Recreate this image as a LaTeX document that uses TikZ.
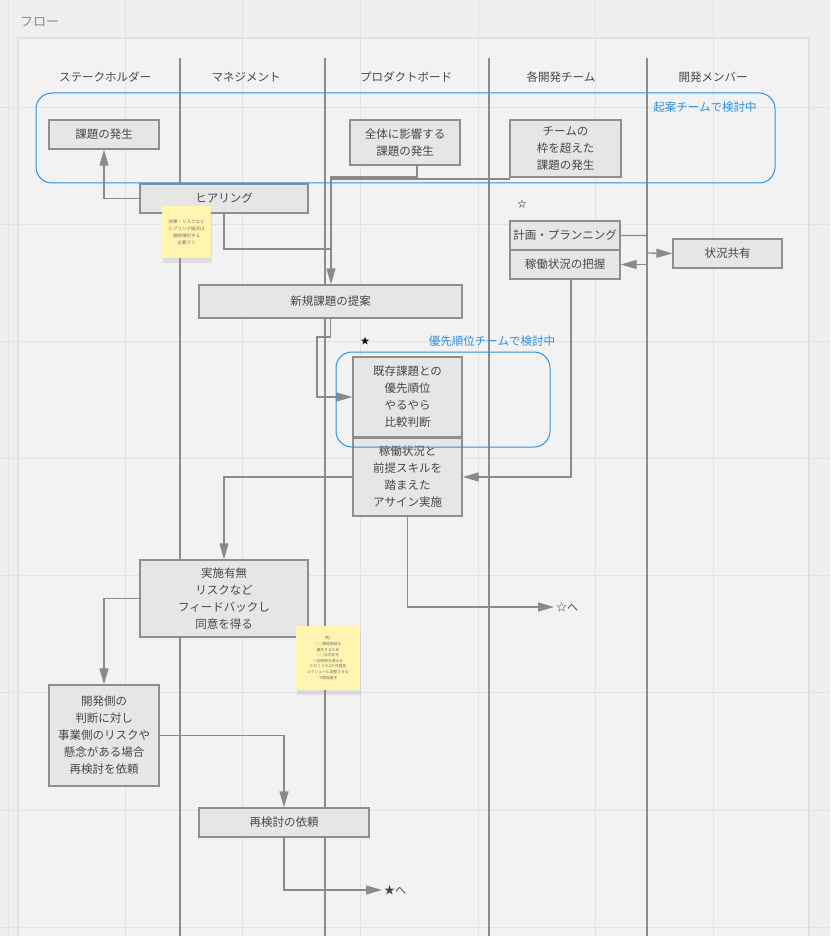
\documentclass[tikz,border=0pt]{standalone}
\usepackage{fontspec}
\setmainfont{Noto Sans CJK JP}
\usetikzlibrary{arrows.meta,shadows}

\definecolor{bgcol}{HTML}{EFEFEF}
\definecolor{panelcol}{HTML}{F2F2F2}
\definecolor{gridcol}{HTML}{E2E2E2}
\definecolor{boxfill}{HTML}{E6E6E6}
\definecolor{boxline}{HTML}{8E8E8E}
\definecolor{flowline}{HTML}{8A8A8A}
\definecolor{laneline}{HTML}{8C8C8C}
\definecolor{txt}{HTML}{474747}
\definecolor{teamblue}{HTML}{2D8FE0}
\definecolor{stickyy}{HTML}{FFF5B0}

\begin{document}
\begin{tikzpicture}[x=1pt,y=-1pt,>={Triangle[length=16pt,width=9pt]},
  proc/.style={draw=boxline,fill=boxfill,line width=1.3pt,align=center,inner sep=0pt,
    font=\fontsize{11.5}{17}\selectfont,text=txt},
  flow/.style={draw=flowline,line width=1.3pt,color=flowline},
  lane/.style={draw=laneline,line width=1.3pt},
  head/.style={font=\fontsize{11.5}{14}\selectfont,text=txt},
  team/.style={draw=teamblue,line width=1pt,rounded corners=16pt},
  teamlabel/.style={font=\fontsize{11.5}{14}\selectfont,text=teamblue},
  sticky/.style={fill=stickyy,inner sep=0pt,align=center,text=black!55,
    drop shadow={shadow xshift=1pt,shadow yshift=-5pt,opacity=.18}},
  starmark/.style={font=\fontsize{10}{12}\selectfont,text=black,inner sep=2pt}]
\useasboundingbox (0,0) rectangle (830,936);

% background, panel and grid
\fill[bgcol] (0,0) rectangle (830,936);
\fill[black!12] (17,37) rectangle (810,940);
\fill[panelcol] (19,39) rectangle (808,940);
\foreach \x in {8,125,242,360,478,595,713}
  \draw[gridcol,line width=0.8pt] (\x,0) -- (\x,936);
\foreach \y in {107,224,341,458,575,692,810,927}
  \draw[gridcol,line width=0.8pt] (0,\y) -- (830,\y);
\node[font=\fontsize{13}{15}\selectfont,text=black!45,anchor=west,inner sep=0pt] (title) at (20,22) {フロー};

% lanes
\foreach \x in {180,325,489,647}
  \draw[lane] (\x,58) -- (\x,936);
\node[head] (hStake) at (105,77) {ステークホルダー};
\node[head] (hMgmt) at (246,77) {マネジメント};
\node[head] (hBoard) at (406,77) {プロダクトボード};
\node[head] (hTeam) at (561,77) {各開発チーム};
\node[head] (hMember) at (713,77) {開発メンバー};

% steps
\node[proc,minimum width=110pt,minimum height=29pt] (hassei) at (104,134.5) {課題の発生};
\node[proc,minimum width=110pt,minimum height=45pt] (zentai) at (405,142.5) {全体に影響する\\課題の発生};
\node[proc,minimum width=111pt,minimum height=57pt] (waku) at (565.5,148.5) {チームの\\枠を超えた\\課題の発生};
\node[proc,minimum width=168pt,minimum height=29pt] (hearing) at (224,198.5) {ヒアリング};
\node[proc,minimum width=110pt,minimum height=29pt] (plan) at (565,235.5) {計画・プランニング};
\node[proc,minimum width=110pt,minimum height=29pt] (haaku) at (565,264.5) {稼働状況の把握};
\node[proc,minimum width=109pt,minimum height=29pt] (kyoyu) at (727.5,253.5) {状況共有};
\node[proc,minimum width=263pt,minimum height=33pt] (teian) at (330.5,301.5) {新規課題の提案};
\node[proc,minimum width=109pt,minimum height=80pt] (hikaku) at (407.5,397) {既存課題との\\優先順位\\やるやら\\比較判断};
\node[proc,minimum width=109pt,minimum height=78pt] (assign) at (407.5,477) {稼働状況と\\前提スキルを\\踏まえた\\アサイン実施};
\node[proc,minimum width=168pt,minimum height=77pt] (doui) at (224,598.5) {実施有無\\リスクなど\\フィードバックし\\同意を得る};
\node[proc,minimum width=110pt,minimum height=101pt] (irai) at (104,735.5) {開発側の\\判断に対し\\事業側のリスクや\\懸念がある場合\\再検討を依頼};
\node[proc,minimum width=170pt,minimum height=29pt] (saiken) at (284,822.5) {再検討の依頼};

% marks
\node[starmark,font=\fontsize{9}{11}\selectfont] (starPlan) at (522,204) {☆};
\node[starmark,font=\fontsize{9}{11}\selectfont] (starHikaku) at (365,341) {★};
\node[starmark,anchor=west,font=\fontsize{11}{13}\selectfont,text=txt] (toStarA) at (554,607) {☆へ};
\node[starmark,anchor=west,font=\fontsize{11}{13}\selectfont,text=txt] (toStarB) at (382,890) {★へ};

% sticky notes
\node[sticky,minimum width=49pt,minimum height=52pt,font=\fontsize{4.5}{7}\selectfont] (memo1) at (186.5,232)
  {効果・リスクなど\\ヒアリング論点は\\継続検討する\\必要アリ};
\node[sticky,minimum width=64pt,minimum height=64pt,font=\fontsize{3.8}{5.6}\selectfont] (memo2) at (328,658)
  {例)\\○○機能開発を\\優先するため\\○○は対応を\\一旦時期を遅らせ\\少なくとも2か月程度\\スケジュール調整させる\\で開発着手};

% connectors
\coordinate (m1) at (331,177);
\coordinate (m2) at (331,179);
\coordinate (m3) at (331,249);
\coordinate (s1) at (647,253);
\coordinate (b1) at (317,337);
\draw[flow,->] (hearing.west) -| (hassei.south);
\draw[flow] (hearing.south) |- (m3);
\draw[flow] (waku.west) |- (m2);
\draw[flow,->] ([xshift=12pt]zentai.south) |- (m1) -- (m1 |- teian.north);
\draw[flow,->] (plan.east) -| (s1) -- (kyoyu.west);
\draw[flow,->] (s1) |- (haaku.east);
\draw[flow,->] ([xshift=6pt]haaku.south) |- (assign.east);
\draw[flow,->] (teian.south) |- (b1) |- (hikaku.west);
\draw[flow,->] (assign.west) -| (doui.north);
\draw[flow,->] (assign.south) |- (toStarA.west);
\draw[flow,->] (doui.west) -| (irai.north);
\draw[flow,->] (irai.east) -| (saiken.north);
\draw[flow,->] (saiken.south) |- (toStarB.west);

% teams
\draw[team] (36,93) rectangle (775,183);
\node[teamlabel] (teamKian) at (705,107) {起案チームで検討中};
\draw[team] (336,352) rectangle (550,447);
\node[teamlabel] (teamYusen) at (492,341) {優先順位チームで検討中};
\end{tikzpicture}
\end{document}
